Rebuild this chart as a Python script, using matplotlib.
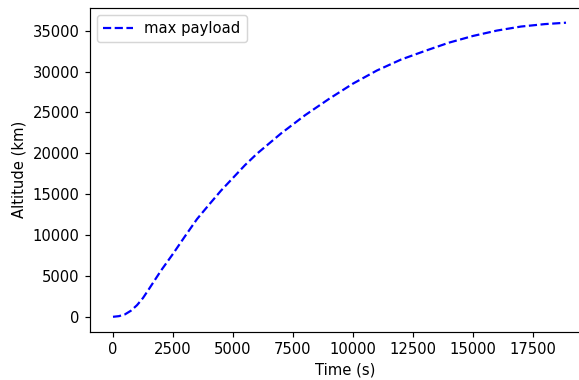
import matplotlib
matplotlib.use('Agg')
import matplotlib.pyplot as plt

# time (s) and altitude (km)
time = [0, 250, 500, 750, 1000, 1250, 1500, 2000, 2500, 3000, 3500, 4000,
        4500, 5000, 5500, 6000, 7000, 8000, 9000, 10000, 11000, 12000,
        13000, 14000, 15000, 16000, 17000, 18000, 18875]
altitude = [0, 80, 300, 750, 1420, 2300, 3400, 5650, 7700, 9850, 11950, 13710,
            15430, 16990, 18550, 19950, 22420, 24650, 26650, 28520, 30130, 31460,
            32520, 33530, 34350, 35010, 35500, 35800, 35970]

dpi = 106
fig = plt.figure(figsize=(579 / dpi, 380 / dpi), dpi=dpi)
# axes run past the right edge of the figure (the reference is cropped there)
ax = fig.add_axes([90 / 579, 48.5 / 380, 510 / 579, 323.5 / 380])
ax.plot(time, altitude, 'b--', label='max payload')
ax.set_xlim(-958, 20292)
ax.set_xticks([0, 2500, 5000, 7500, 10000, 12500, 15000, 17500])
ax.set_xlabel('Time (s)')
ax.set_ylabel('Altitude (km)')
ax.legend(loc='upper left')
fig.savefig('out.png', dpi=dpi)
